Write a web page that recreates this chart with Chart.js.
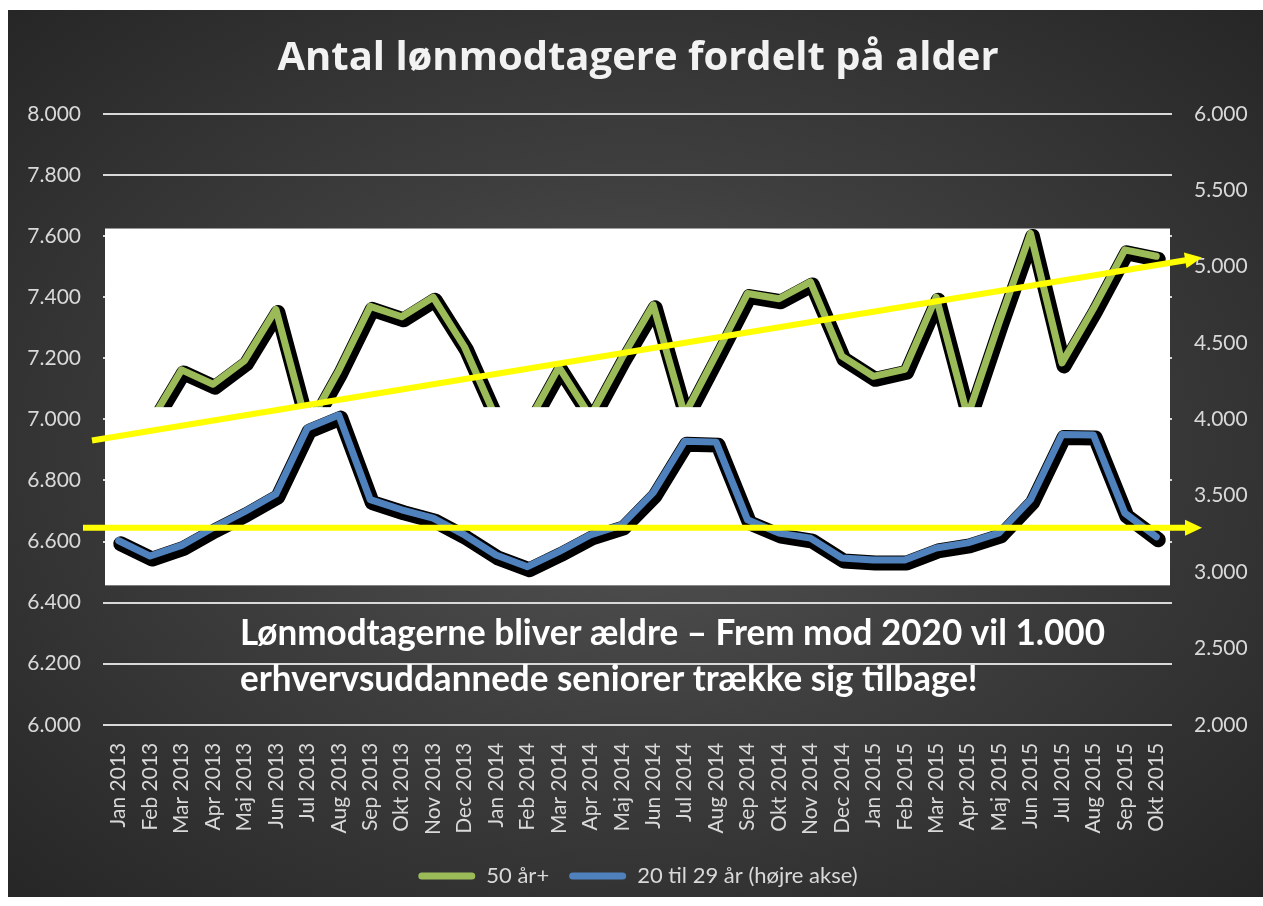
<!DOCTYPE html>
<html>
<head>
<meta charset="utf-8">
<script src="https://cdn.jsdelivr.net/npm/chart.js@4.4.1/dist/chart.umd.min.js"></script>
<style>
  html, body { margin: 0; padding: 0; background: #fff; }
  #panel {
    position: absolute; left: 8px; top: 10px; width: 1255px; height: 887px;
    background: radial-gradient(ellipse at 50% 50%, #555555 0%, #3e3e3e 45%, #262626 100%);
  }
  canvas { display: block; }
</style>
</head>
<body>
<div id="panel"><canvas id="chart" width="1255" height="887"></canvas></div>
<script>
const months = [
  'Jan 2013', 'Feb 2013', 'Mar 2013', 'Apr 2013', 'Maj 2013', 'Jun 2013',
  'Jul 2013', 'Aug 2013', 'Sep 2013', 'Okt 2013', 'Nov 2013', 'Dec 2013',
  'Jan 2014', 'Feb 2014', 'Mar 2014', 'Apr 2014', 'Maj 2014', 'Jun 2014',
  'Jul 2014', 'Aug 2014', 'Sep 2014', 'Okt 2014', 'Nov 2014', 'Dec 2014',
  'Jan 2015', 'Feb 2015', 'Mar 2015', 'Apr 2015', 'Maj 2015', 'Jun 2015',
  'Jul 2015', 'Aug 2015', 'Sep 2015', 'Okt 2015'
];

// 50 år+ (venstre akse)
const over50 = [
  6960, 6990, 7162, 7115, 7192, 7360, 6975, 7160, 7370, 7336, 7400, 7237,
  7005, 6985, 7171, 7010, 7200, 7375, 7015, 7212, 7412, 7395, 7450, 7207,
  7141, 7164, 7400, 7010, 7316, 7609, 7185, 7362, 7555, 7534
];

// 20 til 29 år (højre akse)
const age20to29 = [
  3205, 3105, 3175, 3290, 3395, 3512, 3943, 4028, 3474, 3408, 3353, 3243,
  3112, 3035, 3134, 3243, 3309, 3520, 3857, 3851, 3342, 3255, 3222, 3092,
  3079, 3079, 3158, 3191, 3257, 3474, 3901, 3898, 3386, 3231
];

const leftAxis = { min: 6000, max: 8000, step: 200 };
const rightAxis = { min: 2000, max: 6000, step: 500 };

// white picture box behind the lines, in left-axis units
const boxTop = 7625;
const boxBottom = 6457;
const boxCut = 7040; // green line is hidden below this

// yellow arrows, in left-axis units
const trendArrow = { from: 6931, to: 7530 };
const flatArrow = { from: 6645, to: 6645 };

const noteLines = [
  'Lønmodtagerne bliver ældre – Frem mod 2020 vil 1.000',
  'erhvervsuddannede seniorer trække sig tilbage!'
];

const GREEN = '#9bbb59';
const BLUE = '#4f81bd';
const TEXT = '#d9d9d9';

function fmt(v) {
  return String(v).replace(/\B(?=(\d{3})+(?!\d))/g, '.');
}

const overlayPlugin = {
  id: 'overlay',
  beforeDatasetsDraw(chart) {
    const { ctx, chartArea: a, scales } = chart;
    const y = scales.y;
    ctx.save();
    ctx.fillStyle = '#ffffff';
    const top = y.getPixelForValue(boxTop);
    ctx.fillRect(a.left + 2, top, a.right - a.left - 4, y.getPixelForValue(boxBottom) - top);
    ctx.restore();
  },
  beforeDatasetDraw(chart, args) {
    const { ctx, chartArea: a, scales } = chart;
    const ds = chart.data.datasets[args.index];
    if (ds.hideAbove) {
      // white box that covers the lower part of the green line
      const y = scales.y;
      const top = y.getPixelForValue(boxCut);
      ctx.save();
      ctx.fillStyle = '#ffffff';
      ctx.fillRect(a.left + 2, top, a.right - a.left - 4, y.getPixelForValue(boxBottom) - top);
      ctx.restore();
    }
    if (ds.isShadow) {
      ctx.save();
      ctx.translate(2, 3);
    }
  },
  afterDatasetDraw(chart, args) {
    if (chart.data.datasets[args.index].isShadow) chart.ctx.restore();
  },
  afterDraw(chart) {
    const { ctx, chartArea: a, scales } = chart;
    const y = scales.y;

    function arrow(x1, y1, x2, y2) {
      const ang = Math.atan2(y2 - y1, x2 - x1);
      const head = 17, half = 8;
      const bx = x2 - head * Math.cos(ang), by = y2 - head * Math.sin(ang);
      ctx.strokeStyle = '#ffff00';
      ctx.fillStyle = '#ffff00';
      ctx.lineWidth = 6;
      ctx.beginPath();
      ctx.moveTo(x1, y1);
      ctx.lineTo(bx + 2 * Math.cos(ang), by + 2 * Math.sin(ang));
      ctx.stroke();
      ctx.beginPath();
      ctx.moveTo(x2, y2);
      ctx.lineTo(bx + half * Math.sin(ang), by - half * Math.cos(ang));
      ctx.lineTo(bx - half * Math.sin(ang), by + half * Math.cos(ang));
      ctx.closePath();
      ctx.fill();
    }

    ctx.save();
    arrow(a.left - 11, y.getPixelForValue(trendArrow.from), a.right + 30, y.getPixelForValue(trendArrow.to));
    arrow(a.left - 20, y.getPixelForValue(flatArrow.from), a.right + 30, y.getPixelForValue(flatArrow.to));

    // note text
    ctx.font = 'bold 36px Lato';
    ctx.fillStyle = '#ffffff';
    ctx.textBaseline = 'alphabetic';
    const sx = 865 / ctx.measureText(noteLines[0]).width;
    const tx = a.left + 137;
    [6260, 6112].forEach((v, i) => {
      ctx.save();
      ctx.translate(tx, y.getPixelForValue(v));
      ctx.scale(sx, 1);
      ctx.fillText(noteLines[i], 0, 0);
      ctx.restore();
    });
    ctx.restore();
  }
};

new Chart(document.getElementById('chart'), {
  type: 'line',
  data: {
    labels: months,
    datasets: [
      {
        label: '50 år+',
        data: over50,
        yAxisID: 'y',
        borderColor: GREEN,
        borderWidth: 7,
        order: 2
      },
      {
        label: 'shadow 50',
        data: over50,
        yAxisID: 'y',
        borderColor: '#000000',
        borderWidth: 15,
        isShadow: true,
        order: 3
      },
      {
        label: '20 til 29 år (højre akse)',
        data: age20to29,
        yAxisID: 'y1',
        borderColor: BLUE,
        borderWidth: 7,
        order: 0
      },
      {
        label: 'shadow 20-29',
        data: age20to29,
        yAxisID: 'y1',
        borderColor: '#000000',
        borderWidth: 15,
        isShadow: true,
        hideAbove: true,
        order: 1
      }
    ]
  },
  options: {
    responsive: false,
    animation: false,
    layout: { padding: { left: 18, right: 13, top: 0, bottom: 0 } },
    elements: {
      line: { tension: 0, borderJoinStyle: 'round', borderCapStyle: 'round', fill: false },
      point: { radius: 0, hoverRadius: 0 }
    },
    plugins: {
      title: {
        display: true,
        text: 'Antal lønmodtagere fordelt på alder',
        color: '#f2f2f2',
        font: { family: 'Open Sans', size: 40, weight: 'bold' },
        padding: { top: 25, bottom: 31 }
      },
      legend: {
        position: 'bottom',
        labels: {
          color: TEXT,
          font: { family: 'Lato', size: 22 },
          boxWidth: 57,
          boxHeight: 7,
          useBorderRadius: true,
          borderRadius: 3.5,
          padding: 20,
          generateLabels(chart) {
            return chart.data.datasets
              .map((d, i) => ({ d, i }))
              .filter(o => !o.d.isShadow)
              .map(o => ({
                text: o.d.label,
                fillStyle: o.d.borderColor,
                strokeStyle: o.d.borderColor,
                lineWidth: 0,
                fontColor: TEXT,
                borderRadius: 3.5,
                datasetIndex: o.i
              }));
          }
        }
      },
      tooltip: { enabled: false }
    },
    scales: {
      x: {
        offset: true,
        grid: { display: false },
        border: { display: false },
        afterFit(scale) {
          scale.paddingLeft = 0;
          scale.paddingRight = 0;
        },
        ticks: {
          color: TEXT,
          font: { family: 'Lato', size: 21 },
          autoSkip: false,
          maxRotation: 90,
          minRotation: 90,
          padding: 10
        }
      },
      y: {
        position: 'left',
        min: leftAxis.min,
        max: leftAxis.max,
        afterFit(scale) { scale.width = 77; },
        grid: { color: '#d9d9d9', lineWidth: 2, drawTicks: false },
        border: { display: false },
        ticks: {
          stepSize: leftAxis.step,
          color: TEXT,
          font: { family: 'Lato', size: 21 },
          padding: 22,
          callback: v => fmt(v)
        }
      },
      y1: {
        position: 'right',
        min: rightAxis.min,
        max: rightAxis.max,
        afterFit(scale) { scale.width = 78; },
        grid: { drawOnChartArea: false, drawTicks: false },
        border: { display: false },
        ticks: {
          stepSize: rightAxis.step,
          color: TEXT,
          font: { family: 'Lato', size: 21 },
          padding: 22,
          callback: v => fmt(v)
        }
      }
    }
  },
  plugins: [overlayPlugin]
});
</script>
</body>
</html>
